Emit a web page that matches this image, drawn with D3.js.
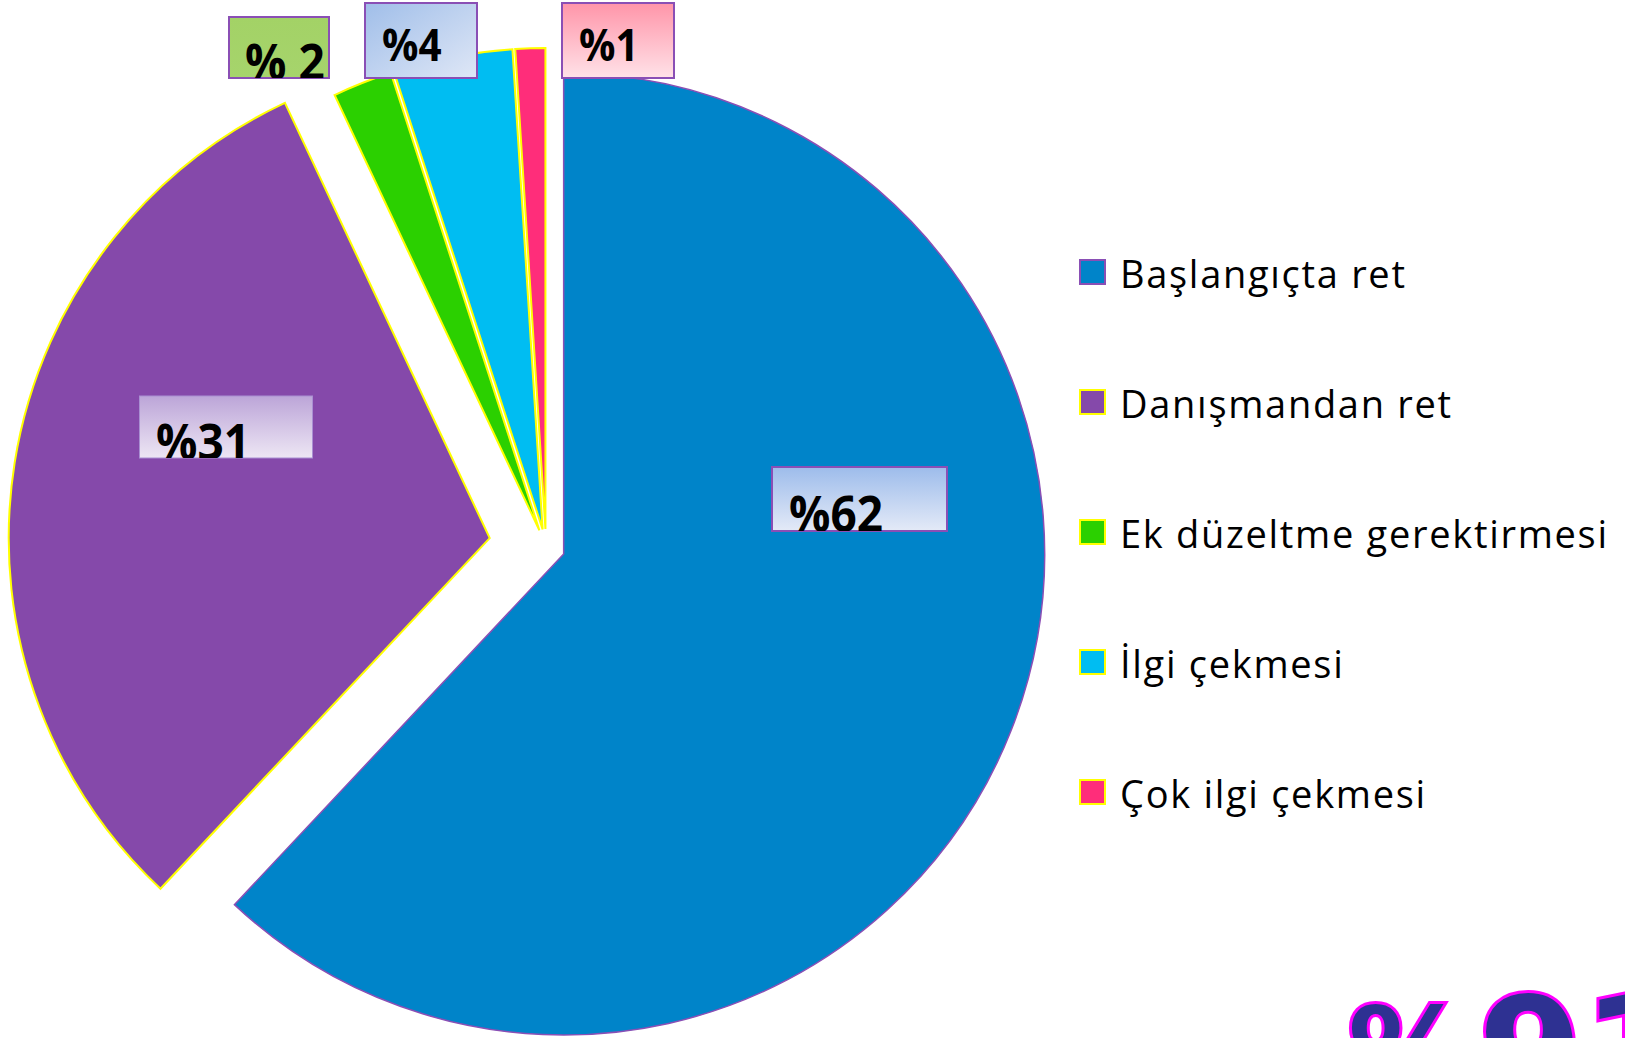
<!DOCTYPE html>
<html lang="tr">
<head>
<meta charset="UTF-8">
<title>Pie</title>
<script src="https://cdn.jsdelivr.net/npm/d3@7"></script>
<style>
  body { margin: 0; background: #fff; }
  svg { display: block; }
  .legend text { font-family: "Open Sans", sans-serif; font-size: 38px; letter-spacing: 1.7px; fill: #000; }
  .lbl { font-family: "Open Sans", sans-serif; font-weight: 700; fill: #000; }
</style>
</head>
<body>
<div id="chart"></div>
<script>
// data
var categories = ["Başlangıçta ret", "Danışmandan ret", "Ek düzeltme gerektirmesi", "İlgi çekmesi", "Çok ilgi çekmesi"];
var values = [62, 31, 2, 4, 1];
var valueLabels = ["%62", "%31", "% 2", "%4", "%1"];

// styles
var colors = ["#0084c9", "#8549aa", "#2bd000", "#00bdf2", "#ff2d7a"];
var edge = ["#8a4fb5", "#ffff00", "#ffff00", "#ffff00", "#ffff00"];
var explode = [19, 57, 18, 18, 18];   // slice pull-out, px

// label boxes (placed by hand, like in the original)
var boxes = [
  {x: 772, y: 467, w: 175, h: 64, tx: 789, ty: 532, fs: 50, grad: ["#9dbceb", "#e4eaf7"], border: "#8a4fb5", bw: 2},
  {x: 139.5, y: 396, w: 173, h: 62, tx: 156, ty: 460, fs: 50, grad: ["#bca5d8", "#ede6f4"], border: "#a98fd2", bw: 1},
  {x: 229, y: 17, w: 100, h: 61, tx: 245, ty: 80, fs: 50, grad: ["#a3d266", "#a6d46c"], border: "#8a4fb5", bw: 2},
  {x: 365, y: 3, w: 112, h: 75, tx: 382, ty: 61, fs: 44, grad: ["#a0bee9", "#dfe7f6"], border: "#8a4fb5", bw: 2, diag: true},
  {x: 562, y: 3, w: 112, h: 75, tx: 579, ty: 61, fs: 44, grad: ["#ff95a9", "#ffe2e8"], border: "#8a4fb5", bw: 2}
];

var width = 1625, height = 1038;
var cx = 546, cy = 547, radius = 481;

var svg = d3.select("#chart").append("svg")
  .attr("width", width)
  .attr("height", height);

var defs = svg.append("defs");

var pie = d3.pie().sort(null).value(function(d) { return d.value; });
var arc = d3.arc().innerRadius(0).outerRadius(radius);

var data = categories.map(function(c, i) { return {name: c, value: values[i], i: i}; });
var arcs = pie(data);

var g = svg.append("g").attr("transform", "translate(" + cx + "," + cy + ")");

g.selectAll("path")
  .data(arcs)
  .enter()
  .append("path")
    .attr("d", arc)
    .attr("transform", function(d) {
      var a = (d.startAngle + d.endAngle) / 2;
      var e = explode[d.data.i];
      return "translate(" + (e * Math.sin(a)) + "," + (-e * Math.cos(a)) + ")";
    })
    .style("fill", function(d) { return colors[d.data.i]; })
    .style("stroke", function(d) { return edge[d.data.i]; })
    .style("stroke-width", function(d) { return d.data.i == 0 ? 1.5 : 2; })
    .style("stroke-linejoin", "miter");

// value labels
boxes.forEach(function(b, i) {
  var gid = "grad" + i;
  var lg = defs.append("linearGradient").attr("id", gid)
    .attr("x1", 0).attr("y1", 0)
    .attr("x2", b.diag ? 1 : 0).attr("y2", 1);
  lg.append("stop").attr("offset", "0%").attr("stop-color", b.grad[0]);
  lg.append("stop").attr("offset", "100%").attr("stop-color", b.grad[1]);

  defs.append("clipPath").attr("id", "clip" + i)
    .append("rect")
      .attr("x", b.x).attr("y", b.y)
      .attr("width", b.w).attr("height", b.h);

  svg.append("rect")
    .attr("x", b.x).attr("y", b.y)
    .attr("width", b.w).attr("height", b.h)
    .style("fill", "url(#" + gid + ")")
    .style("stroke", b.border)
    .style("stroke-width", b.bw);

  svg.append("g")
    .attr("clip-path", "url(#clip" + i + ")")
    .append("text")
      .attr("class", "lbl")
      .attr("transform", "translate(" + b.tx + "," + b.ty + ") scale(0.92,1)")
      .style("font-size", b.fs + "px")
      .text(valueLabels[i]);
});

// legend
var legend = svg.append("g").attr("class", "legend")
  .attr("transform", "translate(1080,260)");

var item = legend.selectAll("g")
  .data(data)
  .enter()
  .append("g")
    .attr("transform", function(d, i) { return "translate(0," + (i * 130) + ")"; });

item.append("rect")
  .attr("x", 0).attr("y", 0)
  .attr("width", 25).attr("height", 24)
  .style("fill", function(d) { return colors[d.i]; })
  .style("stroke", function(d) { return edge[d.i]; })
  .style("stroke-width", 2);

item.append("text")
  .attr("x", 40)
  .attr("y", 28)
  .text(function(d) { return d.name; });

// big note in the corner
var big = svg.append("text")
  .attr("x", 1348)
  .attr("y", 1094)
  .style("font-family", "DejaVu Sans")
  .style("font-weight", "bold")
  .style("fill", "#2e3192")
  .style("stroke", "#ff00ff")
  .style("stroke-width", 6)
  .style("paint-order", "stroke");
big.append("tspan").style("font-size", "122px").text("%");
big.append("tspan").attr("dx", 8).attr("dy", 10).style("font-size", "150px").text("91");
</script>
</body>
</html>
